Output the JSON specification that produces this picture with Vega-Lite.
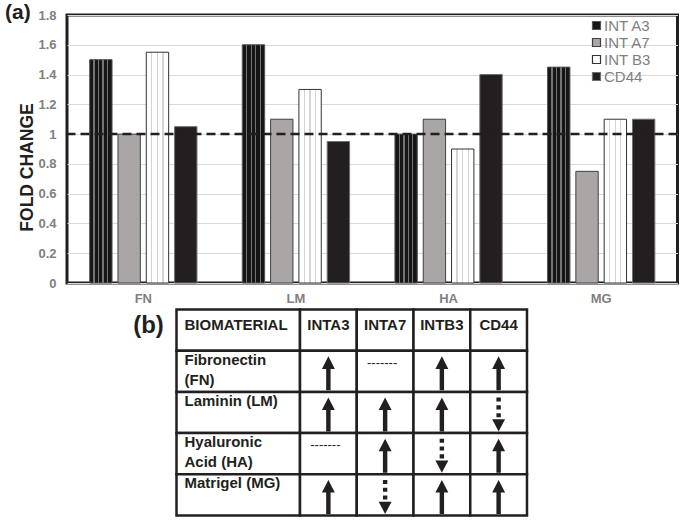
{
  "$schema": "https://vega.github.io/schema/vega-lite/v6.json",
  "padding": {"left": 3, "top": 0, "right": 0, "bottom": 0},
  "bounds": "flush",
  "spacing": 26.5,
  "config": {
    "font": "Liberation Sans",
    "view": {"stroke": null},
    "axis": {"labelFont": "Liberation Sans", "titleFont": "Liberation Sans"},
    "legend": {"labelFont": "Liberation Sans"},
    "title": {"font": "Liberation Sans"}
  },
  "datasets": {
    "bars": [
      {"material": "FN", "series": "INT A3", "fold": 1.5},
      {"material": "FN", "series": "INT A7", "fold": 1.0},
      {"material": "FN", "series": "INT B3", "fold": 1.55},
      {"material": "FN", "series": "CD44", "fold": 1.05},
      {"material": "LM", "series": "INT A3", "fold": 1.6},
      {"material": "LM", "series": "INT A7", "fold": 1.1},
      {"material": "LM", "series": "INT B3", "fold": 1.3},
      {"material": "LM", "series": "CD44", "fold": 0.95},
      {"material": "HA", "series": "INT A3", "fold": 1.0},
      {"material": "HA", "series": "INT A7", "fold": 1.1},
      {"material": "HA", "series": "INT B3", "fold": 0.9},
      {"material": "HA", "series": "CD44", "fold": 1.4},
      {"material": "MG", "series": "INT A3", "fold": 1.45},
      {"material": "MG", "series": "INT A7", "fold": 0.75},
      {"material": "MG", "series": "INT B3", "fold": 1.1},
      {"material": "MG", "series": "CD44", "fold": 1.1}
    ],
    "materials": [
      {"material": "BIOMATERIAL", "column": "BIOMATERIAL", "label": "BIOMATERIAL"},
      {"material": "Fibronectin (FN)", "column": "BIOMATERIAL", "label": "Fibronectin\n(FN)"},
      {"material": "Laminin (LM)", "column": "BIOMATERIAL", "label": "Laminin (LM)"},
      {"material": "Hyaluronic Acid (HA)", "column": "BIOMATERIAL", "label": "Hyaluronic\nAcid (HA)"},
      {"material": "Matrigel (MG)", "column": "BIOMATERIAL", "label": "Matrigel (MG)"}
    ],
    "cells": [
      {"material": "BIOMATERIAL", "gene": "INTA3", "change": "header"},
      {"material": "BIOMATERIAL", "gene": "INTA7", "change": "header"},
      {"material": "BIOMATERIAL", "gene": "INTB3", "change": "header"},
      {"material": "BIOMATERIAL", "gene": "CD44", "change": "header"},
      {"material": "Fibronectin (FN)", "gene": "INTA3", "change": "up"},
      {"material": "Fibronectin (FN)", "gene": "INTA7", "change": "none"},
      {"material": "Fibronectin (FN)", "gene": "INTB3", "change": "up"},
      {"material": "Fibronectin (FN)", "gene": "CD44", "change": "up"},
      {"material": "Laminin (LM)", "gene": "INTA3", "change": "up"},
      {"material": "Laminin (LM)", "gene": "INTA7", "change": "up"},
      {"material": "Laminin (LM)", "gene": "INTB3", "change": "up"},
      {"material": "Laminin (LM)", "gene": "CD44", "change": "down"},
      {"material": "Hyaluronic Acid (HA)", "gene": "INTA3", "change": "none"},
      {"material": "Hyaluronic Acid (HA)", "gene": "INTA7", "change": "up"},
      {"material": "Hyaluronic Acid (HA)", "gene": "INTB3", "change": "down"},
      {"material": "Hyaluronic Acid (HA)", "gene": "CD44", "change": "up"},
      {"material": "Matrigel (MG)", "gene": "INTA3", "change": "up"},
      {"material": "Matrigel (MG)", "gene": "INTA7", "change": "down"},
      {"material": "Matrigel (MG)", "gene": "INTB3", "change": "up"},
      {"material": "Matrigel (MG)", "gene": "CD44", "change": "up"}
    ]
  },
  "vconcat": [
    {
      "width": 610.5,
      "height": 268,
      "view": {"stroke": "#231f20", "strokeWidth": 3},
      "title": {"text": "(a)", "anchor": "start", "frame": "group", "fontSize": 21, "fontWeight": "bold", "color": "#231f20", "dx": -62, "offset": -14},
      "encoding": {
        "y": {
          "field": "fold", "type": "quantitative",
          "scale": {"domain": [0, 1.8], "nice": false},
          "axis": {
            "title": "FOLD CHANGE", "titleFontSize": 17.5, "titleFontWeight": "bold", "titleColor": "#231f20",
            "titleX": -35, "titleY": 152, "titleBaseline": "alphabetic", "titleAlign": "center", "titleAngle": -90,
            "values": [0, 0.2, 0.4, 0.6, 0.8, 1, 1.2, 1.4, 1.6, 1.8], "format": "~g",
            "labelOverlap": false, "labelSeparation": 0, "labelBound": false,
            "labelFontSize": 13, "labelFontWeight": "bold", "labelColor": "#808080", "labelPadding": 11,
            "ticks": false, "domain": false, "grid": true, "gridColor": "#d9d9d9", "gridWidth": 1
          }
        }
      },
      "layer": [
        {
          "data": {"name": "bars"},
          "mark": {"type": "bar", "strokeWidth": 1},
          "encoding": {
            "x": {
              "field": "material", "type": "nominal", "sort": ["FN", "LM", "HA", "MG"],
              "scale": {"paddingInner": 0.26, "paddingOuter": 0.13},
              "axis": {"title": null, "labelAngle": 0, "ticks": false, "domain": false, "labelFontSize": 13, "labelFontWeight": "bold", "labelColor": "#808080", "labelPadding": 9, "grid": false}
            },
            "xOffset": {
              "field": "series", "type": "nominal", "sort": ["INT A3", "INT A7", "INT B3", "CD44"],
              "scale": {"paddingInner": 0.21, "paddingOuter": 0.1}
            },
            "fill": {
              "field": "series", "type": "nominal",
              "scale": {"domain": ["INT A3", "INT A7", "INT B3", "CD44"], "range": ["#161616", "#aaa6a6", "#ffffff", "#231f20"]},
              "legend": {
                "title": null, "orient": "none", "legendX": 522, "legendY": 3,
                "symbolType": "square", "symbolSize": 64, "symbolStrokeWidth": 1.2,
                "labelFontSize": 15, "labelColor": "#7f7f7f", "labelOffset": 0, "rowPadding": 1, "padding": 0
              },
              "condition": [
                {"test": "datum.series === 'INT A3'", "value": {"gradient": "linear", "x1": 0, "y1": 0, "x2": 1, "y2": 0, "stops": [
                  {"offset": 0, "color": "#161616"}, {"offset": 0.17, "color": "#161616"},
                  {"offset": 0.17, "color": "#747474"}, {"offset": 0.23, "color": "#747474"},
                  {"offset": 0.23, "color": "#161616"}, {"offset": 0.37, "color": "#161616"},
                  {"offset": 0.37, "color": "#747474"}, {"offset": 0.43, "color": "#747474"},
                  {"offset": 0.43, "color": "#161616"}, {"offset": 0.57, "color": "#161616"},
                  {"offset": 0.57, "color": "#747474"}, {"offset": 0.63, "color": "#747474"},
                  {"offset": 0.63, "color": "#161616"}, {"offset": 0.77, "color": "#161616"},
                  {"offset": 0.77, "color": "#747474"}, {"offset": 0.83, "color": "#747474"},
                  {"offset": 0.83, "color": "#161616"}, {"offset": 1, "color": "#161616"}
                ]}},
                {"test": "datum.series === 'INT B3'", "value": {"gradient": "linear", "x1": 0, "y1": 0, "x2": 1, "y2": 0, "stops": [
                  {"offset": 0, "color": "#ffffff"}, {"offset": 0.22, "color": "#ffffff"},
                  {"offset": 0.22, "color": "#d4d4d4"}, {"offset": 0.27, "color": "#d4d4d4"},
                  {"offset": 0.27, "color": "#ffffff"}, {"offset": 0.47, "color": "#ffffff"},
                  {"offset": 0.47, "color": "#d4d4d4"}, {"offset": 0.52, "color": "#d4d4d4"},
                  {"offset": 0.52, "color": "#ffffff"}, {"offset": 0.72, "color": "#ffffff"},
                  {"offset": 0.72, "color": "#d4d4d4"}, {"offset": 0.77, "color": "#d4d4d4"},
                  {"offset": 0.77, "color": "#ffffff"}, {"offset": 1, "color": "#ffffff"}
                ]}}
              ]
            },
            "stroke": {
              "field": "series", "type": "nominal",
              "scale": {"domain": ["INT A3", "INT A7", "INT B3", "CD44"], "range": ["#555555", "#404040", "#333333", "#6e6e6e"]}
            }
          }
        },
        {
          "data": {"values": [{"fold": 1}]},
          "mark": {"type": "rule", "stroke": "#231f20", "strokeWidth": 2.5, "strokeDash": [9, 5]},
          "encoding": {}
        }
      ]
    },
    {
      "width": 610.5,
      "height": 206,
      "view": {"stroke": null},
      "resolve": {"scale": {"x": "independent"}},
      "layer": [
        {
          "data": {"name": "materials"},
          "layer": [
            {
              "mark": {"type": "rect", "fill": "#ffffff", "stroke": "#231f20", "strokeWidth": 2.5},
              "encoding": {
                "x": {"field": "column", "type": "nominal", "scale": {"domain": ["BIOMATERIAL"], "range": [109.5, 233], "paddingInner": 0, "paddingOuter": 0}, "axis": null},
                "y": {"field": "material", "type": "nominal", "scale": {"domain": ["BIOMATERIAL", "Fibronectin (FN)", "Laminin (LM)", "Hyaluronic Acid (HA)", "Matrigel (MG)"], "paddingInner": 0, "paddingOuter": 0}, "axis": null}
              }
            },
            {
              "transform": [{"filter": "datum.material === 'BIOMATERIAL'"}],
              "mark": {"type": "text", "align": "left", "baseline": "middle", "dx": 8, "dy": -5, "fontSize": 15, "fontWeight": "bold", "color": "#231f20"},
              "encoding": {
                "x": {"field": "column", "type": "nominal", "bandPosition": 0, "axis": null},
                "y": {"field": "material", "type": "nominal", "axis": null},
                "text": {"field": "label"}
              }
            },
            {
              "transform": [{"filter": "datum.material !== 'BIOMATERIAL'"}],
              "mark": {"type": "text", "align": "left", "baseline": "top", "dx": 8, "dy": 2, "fontSize": 15, "fontWeight": "bold", "color": "#231f20", "lineBreak": "\n", "lineHeight": 20},
              "encoding": {
                "x": {"field": "column", "type": "nominal", "bandPosition": 0, "axis": null},
                "y": {"field": "material", "type": "nominal", "bandPosition": 0, "axis": null},
                "text": {"field": "label"}
              }
            },
            {
              "data": {"values": [{"panel": "(b)"}]},
              "mark": {"type": "text", "align": "center", "baseline": "middle", "dx": -28, "dy": -4, "fontSize": 24, "fontWeight": "bold", "color": "#231f20"},
              "encoding": {
                "x": {"datum": "BIOMATERIAL", "type": "nominal", "bandPosition": 0, "axis": null},
                "y": {"datum": "BIOMATERIAL", "type": "nominal", "axis": null},
                "text": {"field": "panel"}
              }
            }
          ]
        },
        {
          "data": {"name": "cells"},
          "layer": [
            {
              "mark": {"type": "rect", "fill": "#ffffff", "stroke": "#231f20", "strokeWidth": 2.5},
              "encoding": {
                "x": {"field": "gene", "type": "nominal", "scale": {"domain": ["INTA3", "INTA7", "INTB3", "CD44"], "range": [233, 460], "paddingInner": 0, "paddingOuter": 0}, "axis": null},
                "y": {"field": "material", "type": "nominal", "axis": null}
              }
            },
            {
              "transform": [{"filter": "datum.change === 'header'"}],
              "mark": {"type": "text", "align": "center", "baseline": "middle", "dy": -5, "fontSize": 15, "fontWeight": "bold", "color": "#231f20"},
              "encoding": {
                "x": {"field": "gene", "type": "nominal", "axis": null},
                "y": {"field": "material", "type": "nominal", "axis": null},
                "text": {"field": "gene"}
              }
            },
            {
              "transform": [{"filter": "datum.change === 'up' || datum.change === 'down'"}],
              "mark": {"type": "point", "filled": true, "fill": "#231f20", "strokeWidth": 0, "opacity": 1, "size": 1156, "yOffset": 2},
              "encoding": {
                "x": {"field": "gene", "type": "nominal", "axis": null},
                "y": {"field": "material", "type": "nominal", "axis": null},
                "shape": {
                  "field": "change", "type": "nominal", "legend": null,
                  "scale": {"domain": ["up", "down"], "range": [
                    "M0,-1L0.38,-0.26L0.13,-0.26L0.13,1L-0.13,1L-0.13,-0.26L-0.38,-0.26Z",
                    "M-0.13,-1L0.13,-1L0.13,-0.76L-0.13,-0.76Z M-0.13,-0.54L0.13,-0.54L0.13,-0.3L-0.13,-0.3Z M-0.13,-0.08L0.13,-0.08L0.13,0.16L-0.13,0.16Z M-0.38,0.28L0.38,0.28L0,1Z"
                  ]}
                }
              }
            },
            {
              "transform": [{"filter": "datum.change === 'none'"}],
              "mark": {"type": "text", "align": "center", "baseline": "middle", "dx": -3, "dy": 12, "fontSize": 13, "color": "#231f20"},
              "encoding": {
                "x": {"field": "gene", "type": "nominal", "axis": null},
                "y": {"field": "material", "type": "nominal", "bandPosition": 0, "axis": null},
                "text": {"value": "-------"}
              }
            }
          ]
        }
      ]
    }
  ]
}
